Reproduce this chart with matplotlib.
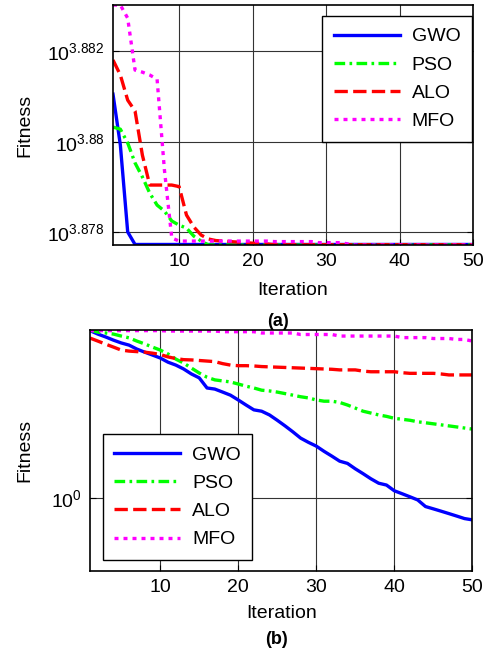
import numpy as np
import matplotlib
matplotlib.use('Agg')
import matplotlib.pyplot as plt
from matplotlib.ticker import FixedLocator, NullLocator, FixedFormatter

plt.rcParams['font.family'] = ['Liberation Sans', 'DejaVu Sans']
plt.rcParams['mathtext.fontset'] = 'custom'
plt.rcParams['mathtext.rm'] = 'Liberation Sans'
plt.rcParams['mathtext.it'] = 'Liberation Sans:italic'
plt.rcParams['mathtext.bf'] = 'Liberation Sans:bold'

# Data
iterations = np.arange(1, 51)
algos = ['GWO', 'PSO', 'ALO', 'MFO']

# (a)
gwo_a = [7604.1, 7584.5, 7551.1, 7546.3, 7546.3, 7546.3, 7546.3, 7546.3, 7546.3, 7546.3,
         7546.3, 7546.3, 7546.3, 7546.3, 7546.3, 7546.3, 7546.3, 7546.3, 7546.3, 7546.3,
         7546.3, 7546.3, 7546.3, 7546.3, 7546.3, 7546.3, 7546.3, 7546.3, 7546.3, 7546.3,
         7546.3, 7546.3, 7546.3, 7546.3, 7546.3, 7546.3, 7546.3, 7546.3, 7546.3, 7546.3,
         7546.3, 7546.3, 7546.3, 7546.3, 7546.3, 7546.3, 7546.3, 7546.3, 7546.3, 7546.3]
pso_a = [7591.4, 7590.6, 7585.3, 7577.6, 7572.2, 7566.0, 7561.4, 7559.1, 7555.3, 7553.7,
         7552.6, 7549.5, 7547.6, 7546.1, 7546.1, 7546.1, 7546.1, 7546.1, 7546.1, 7546.1,
         7546.1, 7546.1, 7546.1, 7546.1, 7546.1, 7546.1, 7546.1, 7546.1, 7546.1, 7546.1,
         7546.1, 7546.1, 7546.1, 7546.1, 7546.1, 7546.1, 7546.1, 7546.1, 7546.1, 7546.1,
         7546.1, 7546.1, 7546.1, 7546.1, 7546.1, 7546.1, 7546.1, 7546.1, 7546.1, 7546.1]
alo_a = [7617.3, 7611.5, 7601.8, 7597.6, 7580.6, 7569.1, 7569.1, 7569.1, 7569.1, 7568.5,
         7557.6, 7553.0, 7549.9, 7548.4, 7547.8, 7547.6, 7547.4, 7547.2, 7547.0, 7546.8,
         7546.7, 7546.5, 7546.2, 7546.2, 7546.2, 7546.2, 7546.2, 7546.2, 7546.2, 7546.2,
         7546.2, 7546.2, 7546.2, 7546.2, 7546.2, 7546.2, 7546.2, 7546.2, 7546.2, 7546.2,
         7546.2, 7546.2, 7546.2, 7546.2, 7546.2, 7546.2, 7546.2, 7546.2, 7546.2, 7546.2]
mfo_a = [7638.6, 7638.6, 7633.5, 7613.4, 7612.6, 7611.5, 7609.9, 7574.9, 7548.8, 7547.6,
         7547.6, 7547.6, 7547.6, 7547.6, 7547.6, 7547.6, 7547.6, 7547.6, 7547.6, 7547.6,
         7547.6, 7547.6, 7547.4, 7547.4, 7547.4, 7547.4, 7547.4, 7547.4, 7547.0, 7547.0,
         7547.0, 7547.0, 7546.5, 7546.1, 7546.1, 7546.1, 7546.1, 7546.1, 7546.1, 7546.1,
         7546.1, 7546.1, 7546.1, 7546.1, 7546.1, 7546.1, 7546.1, 7546.1, 7546.1, 7546.1]

# (b)
gwo_b = [4.95, 4.79, 4.66, 4.52, 4.40, 4.31, 4.15, 4.03, 3.92, 3.81,
         3.66, 3.56, 3.43, 3.27, 3.15, 2.86, 2.83, 2.75, 2.67, 2.55,
         2.43, 2.32, 2.29, 2.21, 2.10, 1.99, 1.88, 1.77, 1.70, 1.64,
         1.56, 1.49, 1.42, 1.39, 1.32, 1.26, 1.20, 1.15, 1.13, 1.07,
         1.04, 1.01, 0.98, 0.92, 0.90, 0.88, 0.86, 0.84, 0.82, 0.81]
pso_b = [4.98, 4.88, 4.84, 4.79, 4.70, 4.62, 4.48, 4.36, 4.23, 4.11,
         3.96, 3.77, 3.63, 3.46, 3.30, 3.17, 3.09, 3.06, 3.03, 2.97,
         2.91, 2.86, 2.80, 2.78, 2.75, 2.71, 2.67, 2.63, 2.60, 2.55,
         2.52, 2.52, 2.49, 2.43, 2.36, 2.29, 2.25, 2.21, 2.18, 2.14,
         2.12, 2.10, 2.07, 2.05, 2.03, 2.01, 1.99, 1.97, 1.95, 1.93]
alo_b = [4.61, 4.48, 4.35, 4.23, 4.11, 4.07, 4.05, 4.03, 3.99, 3.94,
         3.85, 3.79, 3.75, 3.74, 3.72, 3.70, 3.68, 3.61, 3.56, 3.54,
         3.54, 3.53, 3.51, 3.50, 3.49, 3.48, 3.47, 3.46, 3.45, 3.44,
         3.43, 3.42, 3.40, 3.40, 3.40, 3.36, 3.34, 3.34, 3.34, 3.34,
         3.31, 3.29, 3.29, 3.29, 3.29, 3.27, 3.24, 3.24, 3.24, 3.24]
mfo_b = [4.95, 4.95, 4.95, 4.95, 4.95, 4.95, 4.95, 4.95, 4.95, 4.95,
         4.93, 4.93, 4.93, 4.93, 4.93, 4.93, 4.93, 4.90, 4.90, 4.90,
         4.90, 4.90, 4.84, 4.84, 4.84, 4.84, 4.84, 4.77, 4.77, 4.77,
         4.77, 4.77, 4.70, 4.70, 4.70, 4.70, 4.70, 4.70, 4.70, 4.70,
         4.63, 4.63, 4.63, 4.63, 4.59, 4.59, 4.59, 4.55, 4.55, 4.48]

x_ticks = [10, 20, 30, 40, 50]
a_yticks = [10 ** 3.878, 10 ** 3.88, 10 ** 3.882]
a_ylabels = ['$10^{3.878}$', '$10^{3.88}$', '$10^{3.882}$']
b_yticks = [1.0]
b_ylabels = ['$10^{0}$']

styles = {
    'GWO': dict(color='#0000ff', linestyle='-'),
    'PSO': dict(color='#00ff00', dashes=(3.2, 1.3, 0.8, 1.3)),
    'ALO': dict(color='#ff0000', dashes=(4, 1.6)),
    'MFO': dict(color='#ff00ff', dashes=(1.2, 1.5)),
}

FS = 14


def draw(ax, series, ylim, yticks, ylabels, legend_loc, legend_anchor):
    for name, vals in zip(algos, series):
        ax.plot(iterations, vals, lw=2.4, label=name, **styles[name])
    ax.set_yscale('log')
    ax.set_xlim(1, 50)
    ax.set_ylim(*ylim)
    ax.xaxis.set_major_locator(FixedLocator(x_ticks))
    ax.yaxis.set_major_locator(FixedLocator(yticks))
    ax.yaxis.set_major_formatter(FixedFormatter(ylabels))
    ax.yaxis.set_minor_locator(NullLocator())
    ax.xaxis.set_minor_locator(NullLocator())
    ax.grid(True, color='0.2', lw=0.8)
    ax.tick_params(direction='in', length=4, width=0.8, labelsize=FS, pad=6,
                   top=False, right=True)
    for sp in ax.spines.values():
        sp.set_linewidth(1.2)
    ax.set_xlabel('Iteration', fontsize=FS)
    ax.set_ylabel('Fitness', fontsize=FS)
    leg = ax.legend(loc=legend_loc, bbox_to_anchor=legend_anchor, fontsize=FS,
                    fancybox=False, framealpha=1, edgecolor='black',
                    borderaxespad=0, handlelength=3.4, handletextpad=0.6,
                    borderpad=0.6, labelspacing=0.55)
    leg.get_frame().set_linewidth(1.0)


fig = plt.figure(figsize=(4.92, 6.56), dpi=100)

ax1 = fig.add_axes([113 / 492, 1 - 245 / 656, 360 / 492, 240 / 656])
draw(ax1, [gwo_a, pso_a, alo_a, mfo_a], (7546.1, 7638.6), a_yticks, a_ylabels,
     'upper right', (0.998, 0.954))
ax1.yaxis.set_label_coords(-0.222, 0.5)
ax1.xaxis.set_label_coords(0.5, -0.155)

ax2 = fig.add_axes([90 / 492, 1 - 570.7 / 656, 382.3 / 492, 240.7 / 656])
draw(ax2, [gwo_b, pso_b, alo_b, mfo_b], (0.498, 4.98), b_yticks, b_ylabels,
     'upper left', (0.033, 0.567))
ax2.yaxis.set_label_coords(-0.149, 0.5)
ax2.xaxis.set_label_coords(0.5, -0.143)

fig.text(278 / 492, 1 - 322 / 656, '(a)', fontsize=13, fontweight='bold',
         ha='center', va='center')
fig.text(276 / 492, 1 - 640 / 656, '(b)', fontsize=13, fontweight='bold',
         ha='center', va='center')

fig.savefig('out.png', dpi=100)
